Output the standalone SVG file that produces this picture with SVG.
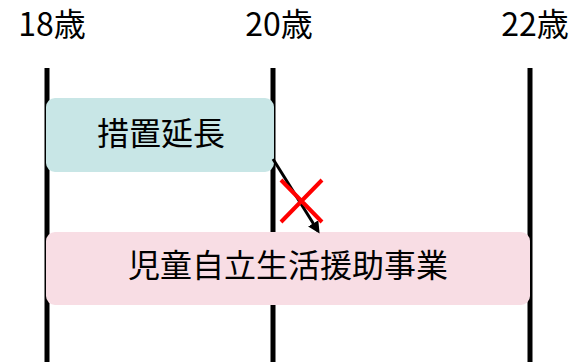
<svg xmlns="http://www.w3.org/2000/svg" width="573" height="362" viewBox="0 0 573 362">
<style>
text{font-family:"Noto Sans CJK JP","Noto Sans",sans-serif;font-size:32px;fill:#000;text-anchor:middle}
.t{font-size:32px}
.v{stroke:#000;stroke-width:5}
</style>
<defs><marker id="ah" markerWidth="12" markerHeight="12" refX="9" refY="6" orient="auto" markerUnits="userSpaceOnUse"><path d="M0,0L12,6L0,12z" fill="#000"/></marker></defs>
<g id="labels">
<text class="t" x="52" y="36">18歳</text>
<text class="t" x="279" y="36">20歳</text>
<text class="t" x="535" y="36">22歳</text>
</g>
<g id="axes">
<line class="v" x1="47" y1="68" x2="47" y2="362"/>
<line class="v" x1="273" y1="68" x2="273" y2="362"/>
<line class="v" x1="530" y1="68" x2="530" y2="362"/>
</g>
<g id="n1"><rect x="46" y="98" width="228" height="74" rx="9" fill="#c8e6e6"/><text x="161" y="145">措置延長</text></g>
<g id="n2"><rect x="46" y="232" width="484" height="73" rx="9" fill="#f8dde4"/><text x="288" y="277">児童自立生活援助事業</text></g>
<g id="connectors">
<line x1="273" y1="159" x2="318" y2="231" stroke="#000" stroke-width="3" marker-end="url(#ah)"/>
<path d="M281,180L322,222M322,180L281,222" stroke="#f00" stroke-width="4"/>
</g>
</svg>
